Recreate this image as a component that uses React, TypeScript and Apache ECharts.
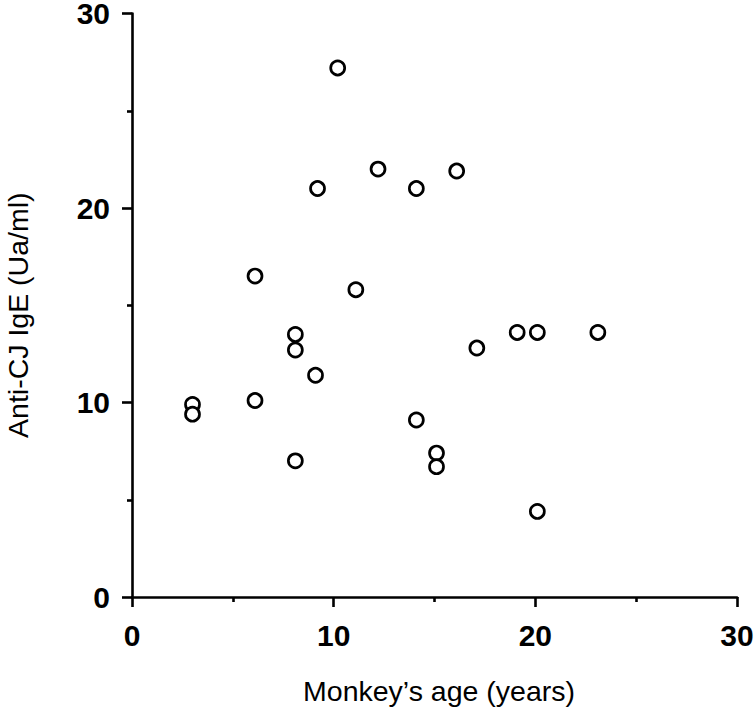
import React, { useEffect, useRef } from "react";
import * as echarts from "echarts";

const ages: number[] = [3.0, 3.0, 6.1, 6.1, 8.1, 8.1, 8.1, 9.1, 9.2, 10.2, 11.1, 12.2, 14.1, 14.1, 15.1, 15.1, 16.1, 17.1, 19.1, 20.1, 20.1, 23.1];
const ige: number[] = [9.9, 9.4, 10.1, 16.5, 13.5, 12.7, 7.0, 11.4, 21.0, 27.2, 15.8, 22.0, 21.0, 9.1, 7.4, 6.7, 21.9, 12.8, 13.6, 13.6, 4.4, 13.6];

const xTitle = "Monkey\u2019s age (years)";
const yTitle = "Anti-CJ IgE (Ua/ml)";

const FONT = "'Liberation Sans', Arial, Helvetica, sans-serif";

export default function App() {
  const ref = useRef<HTMLDivElement>(null);

  useEffect(() => {
    document.body.style.margin = "0";
    if (!ref.current) return;
    const chart = echarts.init(ref.current, null, { renderer: "svg" });
    const axisCommon = {
      type: "value" as const,
      min: 0,
      max: 30,
      interval: 10,
      axisLine: { show: true, lineStyle: { color: "#000", width: 2.6 } },
      axisTick: { show: true, inside: false, length: 10, lineStyle: { color: "#000", width: 2.6 } },
      minorTick: { show: true, splitNumber: 2, length: 5, lineStyle: { color: "#000", width: 2.6 } },
      splitLine: { show: false },
      minorSplitLine: { show: false },
    };
    chart.setOption({
      animation: false,
      backgroundColor: "#fff",
      grid: { left: 132, right: 18, top: 13.5, bottom: 116, containLabel: false, outerBoundsMode: "none" },
      xAxis: {
        ...axisCommon,
        name: xTitle,
        nameLocation: "middle",
        nameGap: 79,
        nameTextStyle: { fontFamily: FONT, fontSize: 28.5, color: "#000", padding: [0, 0, 0, 9] },
        axisLabel: { fontFamily: FONT, fontSize: 30, fontWeight: "bold", color: "#000", margin: 23 },
      },
      yAxis: {
        ...axisCommon,
        name: yTitle,
        nameLocation: "middle",
        nameGap: 100,
        nameTextStyle: { fontFamily: FONT, fontSize: 28.5, color: "#000", padding: [0, 20, 0, 0] },
        axisLabel: {
          fontFamily: FONT,
          fontSize: 30,
          fontWeight: "bold",
          color: "#000",
          margin: 22,
          lineHeight: 18,
          padding: [8, 0, 0, 0],
        },
      },
      series: [
        {
          type: "scatter",
          symbol: "circle",
          symbolSize: 14,
          data: ages.map((a, i) => [a, ige[i]]),
          itemStyle: { color: "#fff", borderColor: "#000", borderWidth: 2.7, opacity: 1 },
          emphasis: { disabled: true },
        },
      ],
    });
    return () => chart.dispose();
  }, []);

  return <div ref={ref} style={{ width: 755, height: 713 }} />;
}
